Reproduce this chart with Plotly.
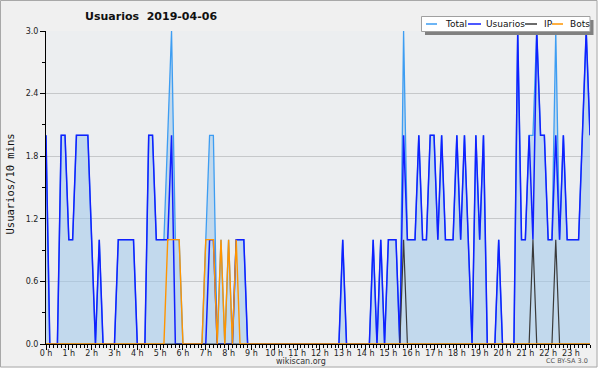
import plotly.graph_objects as go

# ---------------- data (10-minute slots, 0h00 .. 23h50) ----------------
usuarios = [2, 0, 0, 0, 2, 2, 1, 1, 2, 2, 2, 2, 1, 0, 1, 0, 0, 0, 0, 1,
            1, 1, 1, 1, 0, 0, 0, 2, 2, 1, 1, 1, 1, 2, 0, 0, 0, 0, 0, 0,
            0, 0, 0, 1, 1, 0, 0, 0, 0, 0, 1, 1, 1, 0, 0, 0, 0, 0, 0, 0,
            0, 0, 0, 0, 0, 0, 0, 0, 0, 0, 0, 0, 0, 0, 0, 0, 0, 0, 1, 0,
            0, 0, 0, 0, 0, 0, 1, 0, 1, 0, 1, 1, 1, 0, 2, 1, 1, 1, 2, 1,
            1, 2, 2, 1, 2, 1, 1, 1, 2, 1, 2, 1, 0, 2, 1, 2, 0, 0, 0, 1,
            0, 0, 0, 0, 3, 1, 1, 2, 1, 3, 2, 2, 1, 1, 2, 1, 2, 1, 1, 1,
            1, 2, 3, 2]

total = [2, 0, 0, 0, 2, 2, 1, 1, 2, 2, 2, 2, 1, 0, 1, 0, 0, 0, 0, 1,
         1, 1, 1, 1, 0, 0, 0, 2, 2, 1, 1, 1, 2, 3, 1, 1, 0, 0, 0, 0,
         0, 0, 1, 2, 2, 0, 1, 0, 1, 0, 1, 1, 1, 0, 0, 0, 0, 0, 0, 0,
         0, 0, 0, 0, 0, 0, 0, 0, 0, 0, 0, 0, 0, 0, 0, 0, 0, 0, 1, 0,
         0, 0, 0, 0, 0, 0, 1, 0, 1, 0, 1, 1, 1, 0, 3, 1, 1, 1, 2, 1,
         1, 2, 2, 1, 2, 1, 1, 1, 2, 1, 2, 1, 0, 2, 1, 2, 0, 0, 0, 1,
         0, 0, 0, 0, 3, 1, 1, 2, 2, 3, 2, 2, 1, 1, 3, 1, 2, 1, 1, 1,
         1, 2, 3, 2]

ip = [0] * 144
for k in (94, 128, 134):
    ip[k] = 1

bots = [0] * 144
for k in (32, 33, 34, 35, 42, 43, 44, 46, 48, 50):
    bots[k] = 1

slots = list(range(144))
hour_ticks = [0, 6, 12, 18, 24, 30, 36, 42, 48, 54, 60, 66, 72, 78, 84, 90,
              96, 102, 108, 114, 120, 126, 132, 138]
hour_labels = ["0 h", "1 h", "2 h", "3 h", "4 h", "5 h", "6 h", "7 h", "8 h",
               "9 h", "10 h", "11 h", "12 h", "13 h", "14 h", "15 h", "16 h",
               "17 h", "18 h", "19 h", "20 h", "21 h", "22 h", "23 h"]
y_ticks = [0.0, 0.6, 1.2, 1.8, 2.4, 3.0]
y_labels = ["0.0", "0.6", "1.2", "1.8", "2.4", "3.0"]

series_names = ["Total", "Usuarios", "IP", "Bots"]
series_colors = ["#3d9df2", "#1020ff", "#3a3a3a", "#ff9500"]

# ---------------- figure ----------------
W, H = 600, 370
L, R, T, B = 46, 10, 31, 26
PW, PH = W - L - R, H - T - B


def px(x):
    return (x - L) / PW


def py(y):
    return (H - B - y) / PH


fig = go.Figure()
fig.add_trace(go.Scatter(x=slots, y=total, mode="lines", name="Total",
                         line=dict(color=series_colors[0], width=1.3),
                         fill="tozeroy", fillcolor="rgba(160,200,235,0.55)",
                         hoverinfo="skip"))
fig.add_trace(go.Scatter(x=slots, y=usuarios, mode="lines", name="Usuarios",
                         line=dict(color=series_colors[1], width=1.5),
                         hoverinfo="skip"))
fig.add_trace(go.Scatter(x=slots, y=ip, mode="lines", name="IP",
                         line=dict(color=series_colors[2], width=1.2),
                         hoverinfo="skip"))
fig.add_trace(go.Scatter(x=slots, y=bots, mode="lines", name="Bots",
                         line=dict(color=series_colors[3], width=1.4),
                         hoverinfo="skip"))

tickfont = dict(family="DejaVu Sans", size=8, color="#222222")

fig.update_layout(
    width=W, height=H, showlegend=False,
    margin=dict(l=L, r=R, t=T, b=B, pad=0, autoexpand=False),
    paper_bgcolor="#f0f0f0", plot_bgcolor="#eceef0",
    xaxis=dict(range=[0, 143], tickmode="array", tickvals=hour_ticks,
               ticktext=hour_labels, ticks="outside", ticklen=5,
               tickcolor="black", tickwidth=1, showline=True,
               linecolor="black", linewidth=1, showgrid=False,
               zeroline=False, tickfont=tickfont, fixedrange=True,
               ticklabelstandoff=-4,
               minor=dict(tickmode="linear", tick0=0, dtick=1, ticks="outside",
                          ticklen=3, tickcolor="black", showgrid=False)),
    yaxis=dict(range=[0, 3], tickmode="array", tickvals=y_ticks,
               ticktext=y_labels, ticks="outside", ticklen=5,
               tickcolor="black", showline=True, linecolor="black",
               linewidth=1, showgrid=True, gridcolor="#c6c8ca", gridwidth=1,
               zeroline=False, tickfont=tickfont, fixedrange=True,
               minor=dict(tickmode="linear", tick0=0, dtick=0.3,
                          ticks="outside", ticklen=3, tickcolor="black",
                          showgrid=False)),
)

shapes = []
annotations = []

# outer frame
shapes.append(dict(type="rect", xref="paper", yref="paper",
                   x0=px(597.5), x1=px(601), y0=py(-1), y1=py(371),
                   fillcolor="white", line=dict(width=0), layer="above"))
shapes.append(dict(type="rect", xref="paper", yref="paper",
                   x0=px(-1), x1=px(601), y0=py(367.5), y1=py(371),
                   fillcolor="white", line=dict(width=0), layer="above"))
shapes.append(dict(type="rect", xref="paper", yref="paper",
                   x0=px(0.5), x1=px(597), y0=py(0.5), y1=py(367),
                   line=dict(color="#a8a8a8", width=1), layer="above"))

# title
annotations.append(dict(text="<b>Usuarios\u00a0\u00a02019-04-06</b>",
                        xref="paper", yref="paper", x=px(151), y=py(16.5),
                        xanchor="center", yanchor="middle", showarrow=False,
                        font=dict(family="DejaVu Sans", size=11,
                                  color="#111111")))
# y axis title
annotations.append(dict(text="Usuarios/10 mins", xref="paper", yref="paper",
                        x=px(9.5), y=py(184), textangle=-90,
                        xanchor="center", yanchor="middle", showarrow=False,
                        font=dict(family="DejaVu Sans Mono", size=10.5,
                                  color="#111111")))
# footer
annotations.append(dict(text="wikiscan.org", xref="paper", yref="paper",
                        x=px(300.5), y=py(361.5), xanchor="center",
                        yanchor="middle", showarrow=False,
                        font=dict(family="DejaVu Sans", size=8,
                                  color="#333333")))
annotations.append(dict(text="CC BY-SA 3.0", xref="paper", yref="paper",
                        x=px(590), y=py(360.5), xanchor="right",
                        yanchor="middle", showarrow=False,
                        font=dict(family="DejaVu Sans", size=6.5,
                                  color="#555555")))

# legend box (shadow + box)
shapes.append(dict(type="rect", xref="paper", yref="paper",
                   x0=px(425), x1=px(593.5), y0=py(20), y1=py(35),
                   fillcolor="#808080", line=dict(width=0), layer="above"))
shapes.append(dict(type="rect", xref="paper", yref="paper",
                   x0=px(421.5), x1=px(590), y0=py(16.5), y1=py(31.5),
                   fillcolor="white", line=dict(color="#a0a0a0", width=1),
                   layer="above"))
legend_line_x = [(426, 437), (468, 481), (525, 537), (552, 563)]
legend_text_x = [443, 484, 542, 568]
for name, col, (a, b), tx in zip(series_names, series_colors,
                                 legend_line_x, legend_text_x):
    shapes.append(dict(type="line", xref="paper", yref="paper",
                       x0=px(a), x1=px(b), y0=py(24), y1=py(24),
                       line=dict(color=col, width=1.5), layer="above"))
    annotations.append(dict(text=name, xref="paper", yref="paper",
                            x=px(tx), y=py(24), xanchor="left",
                            yanchor="middle", showarrow=False,
                            font=dict(family="DejaVu Sans", size=9,
                                      color="#111111")))

fig.update_layout(shapes=shapes, annotations=annotations)
fig.write_html("out.html", config={"displayModeBar": False},
               post_script="document.body.style.margin='0px';")
